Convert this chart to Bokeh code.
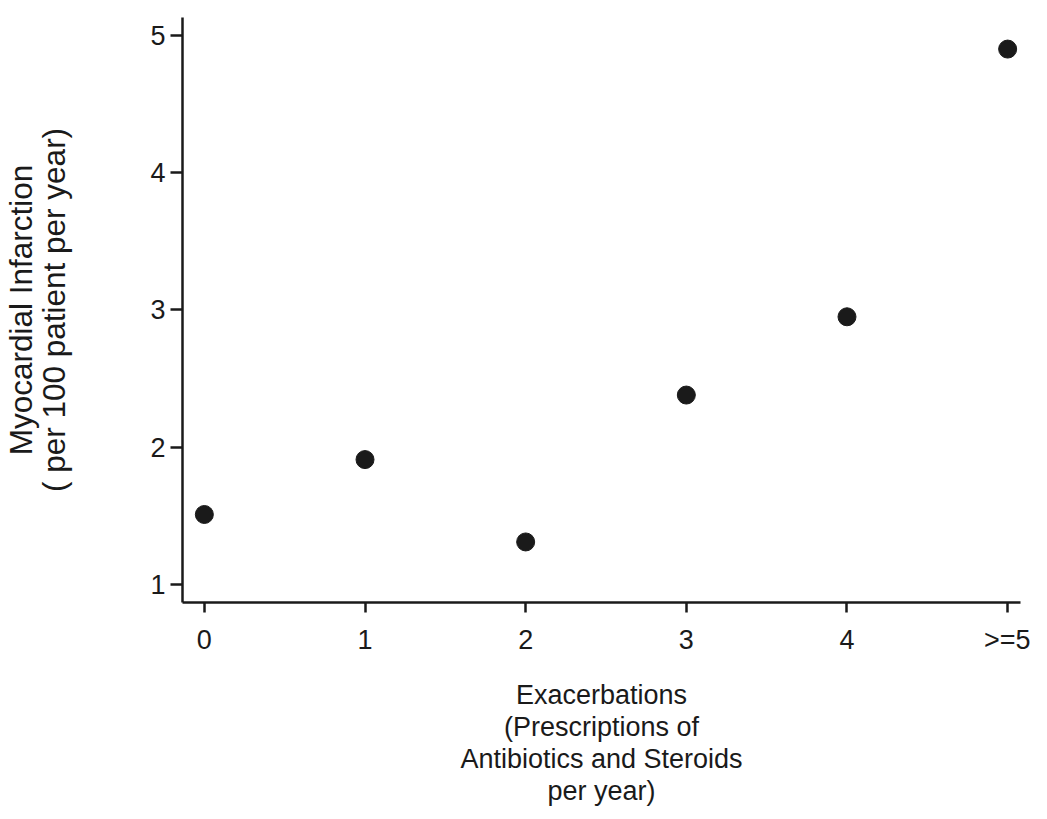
from bokeh.plotting import figure
from bokeh.models import Range1d, FixedTicker
from bokeh.embed import file_html
from bokeh.resources import INLINE

# Data
x_positions = [0, 1, 2, 3, 4, 5]
x_labels = ["0", "1", "2", "3", "4", ">=5"]
mi_rate = [1.51, 1.91, 1.31, 2.38, 2.95, 4.90]
y_ticks = [1, 2, 3, 4, 5]

p = figure(width=1030, height=810, output_backend="svg", toolbar_location=None,
           x_range=Range1d(-0.136, 5.08), y_range=Range1d(0.869, 5.13),
           min_border_left=175, min_border_right=10, min_border_top=17, min_border_bottom=208)

p.scatter(x_positions, mi_rate, size=18, color="#1a1a1a", line_color="#1a1a1a")

p.grid.visible = False
p.outline_line_color = None
p.background_fill_color = "white"
p.border_fill_color = "white"

FONT = "Liberation Sans"
for ax in (p.xaxis[0], p.yaxis[0]):
    ax.axis_line_color = "#1a1a1a"
    ax.axis_line_width = 2.5
    ax.major_tick_line_color = "#1a1a1a"
    ax.major_tick_line_width = 2.5
    ax.major_tick_in = 0
    ax.minor_tick_line_color = None
    ax.major_label_text_font = FONT
    ax.major_label_text_font_size = "27px"
    ax.major_label_text_color = "#1a1a1a"
    ax.axis_label_text_font = FONT
    ax.axis_label_text_font_style = "normal"
    ax.axis_label_text_color = "#1a1a1a"

p.xaxis.ticker = FixedTicker(ticks=x_positions)
p.xaxis.major_label_overrides = {x: l for x, l in zip(x_positions, x_labels)}
p.xaxis.major_tick_out = 10
p.xaxis.major_label_standoff = 12
p.xaxis.axis_label = "Exacerbations\n(Prescriptions of\nAntibiotics and Steroids\nper year)"
p.xaxis.axis_label_text_font_size = "27px"
p.xaxis.axis_label_text_line_height = 1.07
p.xaxis.axis_label_standoff = 22

p.yaxis.ticker = FixedTicker(ticks=y_ticks)
p.yaxis.major_tick_out = 12
p.yaxis.major_label_standoff = 5
p.yaxis.axis_label = "Myocardial Infarction\n( per 100 patient per year)"
p.yaxis.axis_label_text_font_size = "31.5px"
p.yaxis.axis_label_text_line_height = 0.92
p.yaxis.axis_label_standoff = 75

open("out.html", "w").write(file_html(p, INLINE))
